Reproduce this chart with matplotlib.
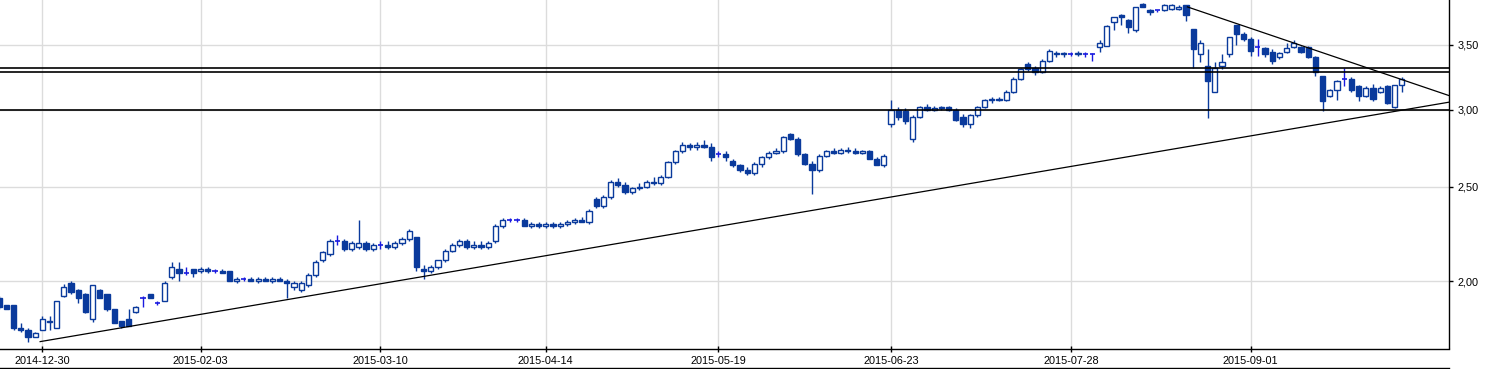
import matplotlib
matplotlib.use('Agg')
import matplotlib.pyplot as plt
import numpy as np
import pandas as pd
from matplotlib.lines import Line2D
from matplotlib.ticker import FixedLocator, NullLocator

# ---------------- data ----------------
holidays = ['2014-12-24', '2014-12-25', '2014-12-26', '2014-12-31', '2015-01-01',
            '2015-01-06', '2015-04-03', '2015-04-06', '2015-05-01', '2015-06-04']
dates = pd.bdate_range('2014-12-17', '2015-09-30')
dates = dates[~dates.isin(pd.to_datetime(holidays))]

opens = [1.92, 1.89, 1.89, 1.79, 1.78, 1.75, 1.78, 1.815, 1.79, 1.93,
         1.99, 1.96, 1.94, 1.83, 1.96, 1.94, 1.87, 1.82, 1.83, 1.86,
         1.92, 1.94, 1.90, 1.91, 2.02, 2.06, 2.04, 2.06, 2.05, 2.06,
         2.05, 2.05, 2.05, 2.00, 2.01, 2.01, 2.00, 2.01, 2.00, 2.01,
         2.00, 1.97, 1.96, 1.98, 2.03, 2.10, 2.13, 2.20, 2.20, 2.16,
         2.17, 2.19, 2.16, 2.18, 2.18, 2.17, 2.19, 2.21, 2.22, 2.06,
         2.05, 2.07, 2.10, 2.15, 2.18, 2.20, 2.17, 2.18, 2.17, 2.20,
         2.28, 2.31, 2.31, 2.31, 2.28, 2.29, 2.28, 2.29, 2.28, 2.29,
         2.30, 2.31, 2.30, 2.43, 2.39, 2.44, 2.53, 2.51, 2.47, 2.49,
         2.50, 2.53, 2.52, 2.56, 2.65, 2.72, 2.76, 2.75, 2.76, 2.75,
         2.70, 2.70, 2.66, 2.63, 2.60, 2.58, 2.64, 2.68, 2.71, 2.72,
         2.83, 2.80, 2.70, 2.64, 2.60, 2.69, 2.72, 2.71, 2.73, 2.72,
         2.71, 2.72, 2.67, 2.63, 2.90, 3.00, 2.99, 2.80, 2.95, 3.02,
         3.00, 3.01, 3.02, 3.00, 2.95, 2.90, 2.96, 3.02, 3.07, 3.08,
         3.07, 3.13, 3.23, 3.34, 3.31, 3.28, 3.37, 3.43, 3.42, 3.42,
         3.42, 3.42, 3.42, 3.48, 3.49, 3.69, 3.75, 3.71, 3.62, 3.85,
         3.80, 3.80, 3.80, 3.81, 3.81, 3.84, 3.63, 3.42, 3.33, 3.13,
         3.33, 3.42, 3.67, 3.59, 3.55, 3.48, 3.47, 3.44, 3.40, 3.44,
         3.48, 3.48, 3.48, 3.40, 3.25, 3.10, 3.14, 3.23, 3.23, 3.17,
         3.10, 3.16, 3.13, 3.17, 3.02, 3.18]
highs = [1.93, 1.89, 1.89, 1.81, 1.79, 1.775, 1.84, 1.84, 1.91, 1.985,
         2.00, 1.965, 1.945, 1.98, 1.965, 1.94, 1.87, 1.82, 1.87, 1.885,
         1.93, 1.94, 1.91, 2.00, 2.09, 2.09, 2.07, 2.06, 2.07, 2.07,
         2.06, 2.06, 2.05, 2.02, 2.02, 2.02, 2.02, 2.02, 2.02, 2.02,
         2.01, 2.00, 2.00, 2.04, 2.10, 2.15, 2.21, 2.23, 2.21, 2.20,
         2.31, 2.20, 2.19, 2.20, 2.20, 2.20, 2.22, 2.26, 2.22, 2.08,
         2.08, 2.10, 2.16, 2.19, 2.21, 2.21, 2.20, 2.20, 2.20, 2.29,
         2.32, 2.32, 2.32, 2.32, 2.30, 2.30, 2.30, 2.30, 2.30, 2.31,
         2.32, 2.33, 2.37, 2.44, 2.45, 2.54, 2.55, 2.53, 2.50, 2.52,
         2.54, 2.56, 2.57, 2.66, 2.73, 2.78, 2.77, 2.78, 2.79, 2.77,
         2.72, 2.72, 2.67, 2.64, 2.62, 2.65, 2.69, 2.72, 2.74, 2.82,
         2.84, 2.81, 2.71, 2.66, 2.70, 2.73, 2.74, 2.74, 2.75, 2.74,
         2.73, 2.73, 2.68, 2.70, 3.07, 3.02, 3.01, 2.96, 3.03, 3.04,
         3.03, 3.03, 3.03, 3.01, 2.97, 2.97, 3.03, 3.08, 3.09, 3.09,
         3.14, 3.24, 3.31, 3.36, 3.33, 3.38, 3.46, 3.45, 3.44, 3.44,
         3.45, 3.44, 3.43, 3.54, 3.67, 3.74, 3.76, 3.72, 3.83, 3.86,
         3.81, 3.80, 3.85, 3.85, 3.84, 3.84, 3.63, 3.54, 3.46, 3.36,
         3.42, 3.56, 3.67, 3.61, 3.56, 3.55, 3.48, 3.46, 3.44, 3.51,
         3.54, 3.49, 3.49, 3.41, 3.25, 3.15, 3.22, 3.31, 3.24, 3.18,
         3.17, 3.19, 3.17, 3.18, 3.18, 3.24]
lows = [1.87, 1.87, 1.78, 1.775, 1.73, 1.75, 1.78, 1.78, 1.79, 1.925,
        1.94, 1.90, 1.855, 1.815, 1.92, 1.865, 1.81, 1.79, 1.80, 1.855,
        1.88, 1.92, 1.89, 1.91, 2.01, 2.00, 2.03, 2.02, 2.04, 2.04,
        2.04, 2.04, 2.00, 1.99, 2.00, 2.00, 1.99, 2.00, 1.99, 2.00,
        1.92, 1.96, 1.95, 1.97, 2.02, 2.09, 2.12, 2.18, 2.15, 2.15,
        2.16, 2.15, 2.15, 2.16, 2.16, 2.16, 2.18, 2.20, 2.05, 2.01,
        2.04, 2.06, 2.09, 2.14, 2.17, 2.16, 2.16, 2.16, 2.16, 2.19,
        2.27, 2.30, 2.30, 2.28, 2.27, 2.27, 2.27, 2.27, 2.27, 2.28,
        2.29, 2.30, 2.29, 2.38, 2.38, 2.43, 2.50, 2.46, 2.46, 2.48,
        2.49, 2.51, 2.51, 2.55, 2.64, 2.71, 2.73, 2.73, 2.74, 2.66,
        2.68, 2.66, 2.62, 2.59, 2.57, 2.57, 2.62, 2.67, 2.70, 2.71,
        2.79, 2.69, 2.63, 2.46, 2.59, 2.68, 2.70, 2.70, 2.71, 2.70,
        2.70, 2.70, 2.66, 2.62, 2.88, 2.93, 2.90, 2.78, 2.94, 2.99,
        2.99, 3.00, 2.99, 2.92, 2.88, 2.87, 2.95, 3.01, 3.05, 3.06,
        3.06, 3.12, 3.22, 3.29, 3.26, 3.27, 3.36, 3.40, 3.40, 3.41,
        3.41, 3.40, 3.37, 3.44, 3.49, 3.62, 3.67, 3.60, 3.61, 3.83,
        3.75, 3.78, 3.79, 3.80, 3.80, 3.70, 3.31, 3.36, 2.94, 3.13,
        3.30, 3.40, 3.50, 3.53, 3.41, 3.41, 3.40, 3.34, 3.38, 3.43,
        3.47, 3.43, 3.39, 3.25, 2.99, 3.09, 3.07, 3.17, 3.13, 3.06,
        3.09, 3.06, 3.12, 3.04, 3.01, 3.13]
closes = [1.88, 1.87, 1.79, 1.78, 1.75, 1.77, 1.83, 1.82, 1.91, 1.97,
          1.95, 1.92, 1.86, 1.98, 1.92, 1.87, 1.81, 1.80, 1.80, 1.88,
          1.92, 1.92, 1.90, 1.99, 2.07, 2.04, 2.04, 2.04, 2.06, 2.05,
          2.05, 2.04, 2.00, 2.01, 2.01, 2.00, 2.01, 2.00, 2.01, 2.00,
          1.99, 1.99, 1.99, 2.03, 2.09, 2.14, 2.20, 2.20, 2.16, 2.19,
          2.19, 2.16, 2.18, 2.18, 2.17, 2.19, 2.21, 2.25, 2.07, 2.05,
          2.07, 2.10, 2.15, 2.18, 2.20, 2.17, 2.18, 2.17, 2.19, 2.28,
          2.31, 2.31, 2.31, 2.28, 2.29, 2.28, 2.29, 2.28, 2.29, 2.30,
          2.31, 2.30, 2.36, 2.39, 2.44, 2.53, 2.51, 2.47, 2.49, 2.50,
          2.53, 2.52, 2.56, 2.65, 2.72, 2.76, 2.75, 2.76, 2.75, 2.68,
          2.70, 2.68, 2.63, 2.60, 2.58, 2.64, 2.68, 2.71, 2.72, 2.81,
          2.80, 2.70, 2.64, 2.60, 2.69, 2.72, 2.71, 2.73, 2.72, 2.71,
          2.72, 2.67, 2.63, 2.69, 3.00, 2.95, 2.92, 2.95, 3.02, 3.00,
          3.01, 3.02, 3.00, 2.93, 2.90, 2.96, 3.02, 3.07, 3.08, 3.07,
          3.13, 3.23, 3.30, 3.30, 3.28, 3.37, 3.45, 3.42, 3.43, 3.42,
          3.43, 3.42, 3.42, 3.51, 3.66, 3.74, 3.74, 3.65, 3.83, 3.83,
          3.78, 3.80, 3.84, 3.84, 3.83, 3.75, 3.46, 3.51, 3.21, 3.31,
          3.36, 3.56, 3.59, 3.55, 3.45, 3.48, 3.42, 3.37, 3.43, 3.47,
          3.51, 3.44, 3.40, 3.28, 3.06, 3.14, 3.21, 3.23, 3.14, 3.10,
          3.16, 3.08, 3.16, 3.05, 3.18, 3.23]

tick_dates = ['2014-12-30', '2015-02-03', '2015-03-10', '2015-04-14',
              '2015-05-19', '2015-06-23', '2015-07-28', '2015-09-01']
y_ticks = [2.0, 2.5, 3.0, 3.5]
y_tick_labels = ['2,00', '2,50', '3,00', '3,50']

h_levels = [3.31, 3.28, 3.00]
support_x = [5.7, 203.0]
support_y = [1.733, 3.067]
resist_x = [165.2, 203.0]
resist_y = [3.827, 3.077]

# ---------------- figure ----------------
W, H = 1486, 369
fig = plt.figure(figsize=(W / 100, H / 100), dpi=100)
ax_l, ax_r, ax_t, ax_b = 0, 1448.5, 0, 348.5
ax = fig.add_axes([ax_l / W, 1 - ax_b / H, (ax_r - ax_l) / W, (ax_b - ax_t) / H])

BLUE = '#0a3a9c'
DOJI = '#1a1ae0'

x = np.arange(len(dates))
o = np.array(opens); c = np.array(closes)
hi = np.array(highs); lo = np.array(lows)
up = c > o
down = c < o
flat = c == o
wick_col = [DOJI if f else BLUE for f in flat]

ax.vlines(x, lo, hi, colors=wick_col, linewidth=1.0, zorder=3)
bw = 0.72
ax.bar(x[down], (o - c)[down], bottom=c[down], width=bw, color=BLUE,
       edgecolor=BLUE, linewidth=1.0, zorder=4)
ax.bar(x[up], (c - o)[up], bottom=o[up], width=bw, color='white',
       edgecolor=BLUE, linewidth=1.0, zorder=4)
ax.hlines(o[flat], x[flat] - bw / 2, x[flat] + bw / 2, colors=DOJI,
          linewidth=1.2, zorder=4)

for lvl in h_levels:
    ax.axhline(lvl, color='black', linewidth=1.2, zorder=5)
ax.plot(support_x, support_y, color='black', linewidth=0.9, zorder=5)
ax.plot(resist_x, resist_y, color='black', linewidth=0.9, zorder=5)

ax.set_yscale('log')
ax.set_ylim(1.705, 3.89)
ax.set_xlim(0.117, 201.5)

tick_idx = [int(np.where(dates == pd.Timestamp(d))[0][0]) for d in tick_dates]
ax.xaxis.set_major_locator(FixedLocator(tick_idx))
ax.set_xticklabels(tick_dates)
ax.xaxis.set_minor_locator(NullLocator())
ax.yaxis.set_major_locator(FixedLocator(y_ticks))
ax.set_yticklabels(y_tick_labels)
ax.yaxis.set_minor_locator(NullLocator())
ax.yaxis.tick_right()

ax.grid(True, color='#dcdcdc', linewidth=1.0, zorder=0)
ax.set_axisbelow(True)
for s in ['left', 'top']:
    ax.spines[s].set_visible(False)
for s in ['right', 'bottom']:
    ax.spines[s].set_color('black')
    ax.spines[s].set_linewidth(1.0)

ax.tick_params(axis='x', direction='inout', length=5, width=1, pad=3,
               labelsize=7.8, colors='black')
ax.tick_params(axis='y', direction='out', length=3, width=1, pad=3.5,
               labelsize=7.8, colors='black')
for lab in ax.get_xticklabels() + ax.get_yticklabels():
    lab.set_fontfamily('Liberation Sans')

fig.add_artist(Line2D([0, 1449 / W], [1 - 368.3 / H, 1 - 368.3 / H],
                      transform=fig.transFigure, color='black', linewidth=1.0))

fig.savefig('out.png', dpi=100)
